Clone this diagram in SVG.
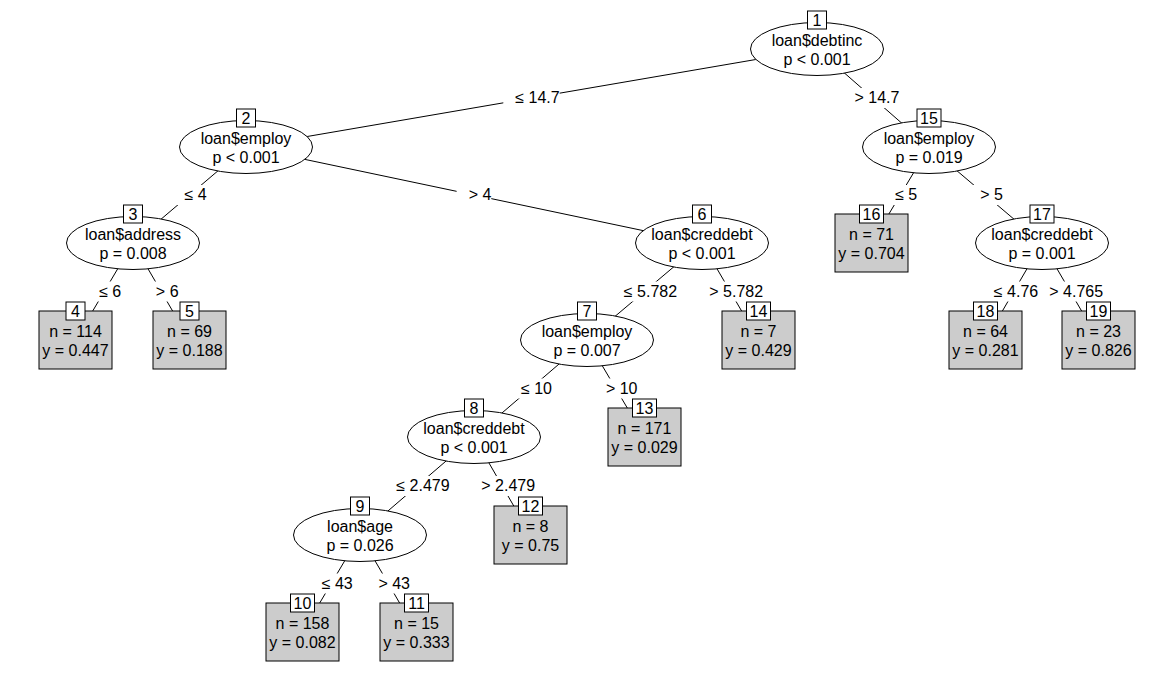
<svg xmlns="http://www.w3.org/2000/svg" width="1175" height="700" viewBox="0 0 1175 700">
<style>
text{font-family:"Liberation Sans",Arial,Helvetica,sans-serif;font-size:16px;fill:#000;text-anchor:middle}
.edge{stroke:#000;stroke-width:1;fill:none}
.lbg{fill:#fff;stroke:none}
.inner{fill:#fff;stroke:#000;stroke-width:1}
.leaf{fill:#cccccc;stroke:#000;stroke-width:1}
.idb{fill:#fff;stroke:#000;stroke-width:1}
</style>
<rect width="1175" height="700" fill="#fff"/>
<g id="connectors">
<line class="edge" x1="817" y1="49" x2="246" y2="147"/>
<line class="edge" x1="817" y1="49" x2="929" y2="147"/>
<line class="edge" x1="246" y1="147" x2="133" y2="243"/>
<line class="edge" x1="246" y1="147" x2="702" y2="243"/>
<line class="edge" x1="133" y1="243" x2="75.5" y2="340"/>
<line class="edge" x1="133" y1="243" x2="189.5" y2="340"/>
<line class="edge" x1="702" y1="243" x2="587" y2="340"/>
<line class="edge" x1="702" y1="243" x2="758.5" y2="340"/>
<line class="edge" x1="587" y1="340" x2="474" y2="437"/>
<line class="edge" x1="587" y1="340" x2="644.5" y2="437"/>
<line class="edge" x1="474" y1="437" x2="360" y2="535"/>
<line class="edge" x1="474" y1="437" x2="530.5" y2="535"/>
<line class="edge" x1="360" y1="535" x2="302.5" y2="632"/>
<line class="edge" x1="360" y1="535" x2="416.5" y2="632"/>
<line class="edge" x1="929" y1="147" x2="871.5" y2="243"/>
<line class="edge" x1="929" y1="147" x2="1042" y2="243"/>
<line class="edge" x1="1042" y1="243" x2="985.5" y2="340"/>
<line class="edge" x1="1042" y1="243" x2="1098.5" y2="340"/>
<rect class="lbg" x="503.3" y="88" width="56.4" height="20"/>
<rect class="lbg" x="844.5" y="88" width="56.9" height="20"/>
<rect class="lbg" x="172.4" y="185" width="34.1" height="20"/>
<rect class="lbg" x="456.6" y="185" width="34.7" height="20"/>
<rect class="lbg" x="87.2" y="281.5" width="34.1" height="20"/>
<rect class="lbg" x="143.9" y="281.5" width="34.7" height="20"/>
<rect class="lbg" x="611.8" y="281.5" width="65.3" height="20"/>
<rect class="lbg" x="697.3" y="281.5" width="65.8" height="20"/>
<rect class="lbg" x="509" y="378.5" width="43" height="20"/>
<rect class="lbg" x="594" y="378.5" width="43.6" height="20"/>
<rect class="lbg" x="384.3" y="476" width="65.3" height="20"/>
<rect class="lbg" x="469.3" y="476" width="65.8" height="20"/>
<rect class="lbg" x="309.7" y="573.5" width="43" height="20"/>
<rect class="lbg" x="366.4" y="573.5" width="43.6" height="20"/>
<rect class="lbg" x="883.2" y="185" width="34.1" height="20"/>
<rect class="lbg" x="968.1" y="185" width="34.7" height="20"/>
<rect class="lbg" x="985.5" y="281.5" width="56.4" height="20"/>
<rect class="lbg" x="1037.3" y="281.5" width="65.8" height="20"/>
<text x="537.5" y="103">≤ 14.7</text>
<text x="877" y="103">&gt; 14.7</text>
<text x="195.5" y="200">≤ 4</text>
<text x="480" y="200">&gt; 4</text>
<text x="110.2" y="296.5">≤ 6</text>
<text x="167.2" y="296.5">&gt; 6</text>
<text x="650.5" y="296.5">≤ 5.782</text>
<text x="736.2" y="296.5">&gt; 5.782</text>
<text x="536.5" y="393.5">≤ 10</text>
<text x="621.7" y="393.5">&gt; 10</text>
<text x="423" y="491">≤ 2.479</text>
<text x="508.2" y="491">&gt; 2.479</text>
<text x="337.2" y="588.5">≤ 43</text>
<text x="394.2" y="588.5">&gt; 43</text>
<text x="906.2" y="200">≤ 5</text>
<text x="991.5" y="200">&gt; 5</text>
<text x="1016" y="296.5">≤ 4.76</text>
<text x="1076.2" y="296.5">&gt; 4.765</text>
</g>
<g id="node1"><ellipse class="inner" cx="817" cy="49" rx="66.5" ry="26.5"/><text x="817" y="46">loan$debtinc</text><text x="817" y="65">p &lt; 0.001</text><rect class="idb" x="807.5" y="11" width="19" height="18"/><text x="817" y="26">1</text></g>
<g id="node2"><ellipse class="inner" cx="246" cy="147" rx="66.5" ry="26.5"/><text x="246" y="144">loan$employ</text><text x="246" y="163">p &lt; 0.001</text><rect class="idb" x="236.5" y="109" width="19" height="18"/><text x="246" y="124">2</text></g>
<g id="node3"><ellipse class="inner" cx="133" cy="243" rx="66.5" ry="26.5"/><text x="133" y="240">loan$address</text><text x="133" y="259">p = 0.008</text><rect class="idb" x="123.5" y="205" width="19" height="18"/><text x="133" y="220">3</text></g>
<g id="node4"><rect class="leaf" x="39" y="311" width="73" height="58"/><text x="75.5" y="337">n = 114</text><text x="75.5" y="356">y = 0.447</text><rect class="idb" x="66" y="302" width="19" height="18"/><text x="75.5" y="317">4</text></g>
<g id="node5"><rect class="leaf" x="153" y="311" width="73" height="58"/><text x="189.5" y="337">n = 69</text><text x="189.5" y="356">y = 0.188</text><rect class="idb" x="180" y="302" width="19" height="18"/><text x="189.5" y="317">5</text></g>
<g id="node6"><ellipse class="inner" cx="702" cy="243" rx="66.5" ry="26.5"/><text x="702" y="240">loan$creddebt</text><text x="702" y="259">p &lt; 0.001</text><rect class="idb" x="692.5" y="205" width="19" height="18"/><text x="702" y="220">6</text></g>
<g id="node7"><ellipse class="inner" cx="587" cy="340" rx="66.5" ry="26.5"/><text x="587" y="337">loan$employ</text><text x="587" y="356">p = 0.007</text><rect class="idb" x="577.5" y="302" width="19" height="18"/><text x="587" y="317">7</text></g>
<g id="node8"><ellipse class="inner" cx="474" cy="437" rx="66.5" ry="26.5"/><text x="474" y="434">loan$creddebt</text><text x="474" y="453">p &lt; 0.001</text><rect class="idb" x="464.5" y="399" width="19" height="18"/><text x="474" y="414">8</text></g>
<g id="node9"><ellipse class="inner" cx="360" cy="535" rx="66.5" ry="26.5"/><text x="360" y="532">loan$age</text><text x="360" y="551">p = 0.026</text><rect class="idb" x="350.5" y="497" width="19" height="18"/><text x="360" y="512">9</text></g>
<g id="node10"><rect class="leaf" x="266" y="603" width="73" height="58"/><text x="302.5" y="629">n = 158</text><text x="302.5" y="648">y = 0.082</text><rect class="idb" x="290.5" y="594" width="24" height="18"/><text x="302.5" y="609">10</text></g>
<g id="node11"><rect class="leaf" x="380" y="603" width="73" height="58"/><text x="416.5" y="629">n = 15</text><text x="416.5" y="648">y = 0.333</text><rect class="idb" x="404.5" y="594" width="24" height="18"/><text x="416.5" y="609">11</text></g>
<g id="node12"><rect class="leaf" x="494" y="506" width="73" height="58"/><text x="530.5" y="532">n = 8</text><text x="530.5" y="551">y = 0.75</text><rect class="idb" x="518.5" y="497" width="24" height="18"/><text x="530.5" y="512">12</text></g>
<g id="node13"><rect class="leaf" x="608" y="408" width="73" height="58"/><text x="644.5" y="434">n = 171</text><text x="644.5" y="453">y = 0.029</text><rect class="idb" x="632.5" y="399" width="24" height="18"/><text x="644.5" y="414">13</text></g>
<g id="node14"><rect class="leaf" x="722" y="311" width="73" height="58"/><text x="758.5" y="337">n = 7</text><text x="758.5" y="356">y = 0.429</text><rect class="idb" x="746.5" y="302" width="24" height="18"/><text x="758.5" y="317">14</text></g>
<g id="node15"><ellipse class="inner" cx="929" cy="147" rx="66.5" ry="26.5"/><text x="929" y="144">loan$employ</text><text x="929" y="163">p = 0.019</text><rect class="idb" x="917" y="109" width="24" height="18"/><text x="929" y="124">15</text></g>
<g id="node16"><rect class="leaf" x="835" y="214" width="73" height="58"/><text x="871.5" y="240">n = 71</text><text x="871.5" y="259">y = 0.704</text><rect class="idb" x="859.5" y="205" width="24" height="18"/><text x="871.5" y="220">16</text></g>
<g id="node17"><ellipse class="inner" cx="1042" cy="243" rx="66.5" ry="26.5"/><text x="1042" y="240">loan$creddebt</text><text x="1042" y="259">p = 0.001</text><rect class="idb" x="1030" y="205" width="24" height="18"/><text x="1042" y="220">17</text></g>
<g id="node18"><rect class="leaf" x="949" y="311" width="73" height="58"/><text x="985.5" y="337">n = 64</text><text x="985.5" y="356">y = 0.281</text><rect class="idb" x="973.5" y="302" width="24" height="18"/><text x="985.5" y="317">18</text></g>
<g id="node19"><rect class="leaf" x="1062" y="311" width="73" height="58"/><text x="1098.5" y="337">n = 23</text><text x="1098.5" y="356">y = 0.826</text><rect class="idb" x="1086.5" y="302" width="24" height="18"/><text x="1098.5" y="317">19</text></g>
</svg>
